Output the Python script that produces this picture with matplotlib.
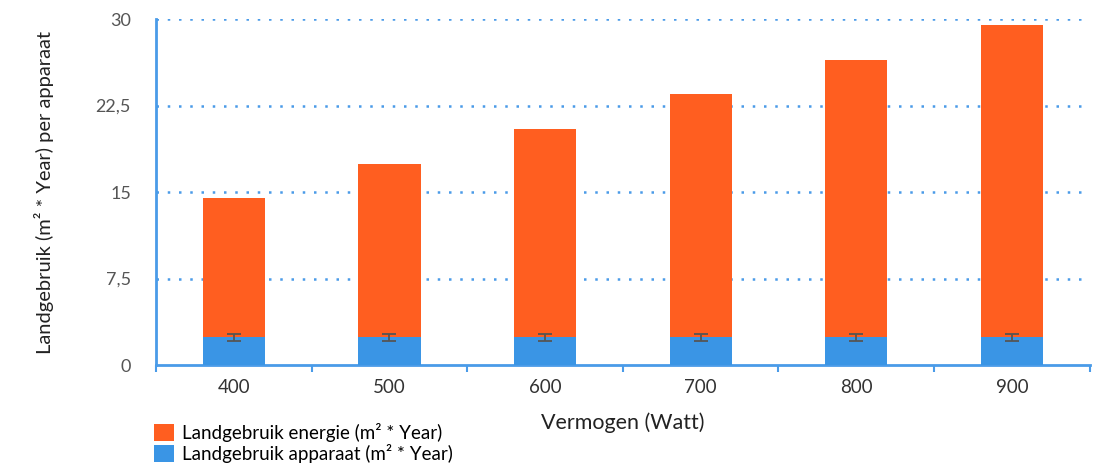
import matplotlib.pyplot as plt
import numpy as np

plt.rcParams['font.family'] = ['Lato', 'DejaVu Sans']

vermogen = ['400', '500', '600', '700', '800', '900']
apparaat = [2.4, 2.4, 2.4, 2.4, 2.4, 2.4]
apparaat_err = [0.3, 0.3, 0.3, 0.3, 0.3, 0.3]
energie = [12.1, 15.0, 18.1, 21.1, 24.05, 27.1]

oranje = '#ff5e20'
blauw = '#3a95e5'
as_kleur = '#4a9be8'

fig = plt.figure(figsize=(10.96, 4.66), dpi=100)
ax = fig.add_axes((0.1423, 0.2167, 0.852, 0.7425))

x = np.arange(len(vermogen))
ax.bar(x, apparaat, width=0.4, color=blauw, label='Landgebruik apparaat (m² * Year)', zorder=3)
ax.bar(x, energie, width=0.4, bottom=apparaat, color=oranje,
       label='Landgebruik energie (m² * Year)', zorder=3)
ax.errorbar(x, apparaat, yerr=apparaat_err, fmt='none', ecolor='#555555',
            elinewidth=1.3, capsize=5, capthick=1.3, zorder=4)

ax.set_xlim(-0.5, 5.5)
ax.set_ylim(0, 30)
ax.set_yticks([0, 7.5, 15, 22.5, 30])
ax.set_yticklabels(['0', '7,5', '15', '22,5', '30'])
ax.set_xticks(x)
ax.set_xticklabels(vermogen)
ax.set_xticks(np.arange(-0.5, 6, 1), minor=True)
ax.tick_params(axis='x', which='major', length=0, pad=10, labelsize=13.5, labelcolor='#333333')
ax.tick_params(axis='x', which='minor', length=5, width=1.5, color=as_kleur, direction='out')
ax.tick_params(axis='y', length=0, pad=18, labelsize=13, labelcolor='#555555')

for v in [7.5, 15, 22.5, 30]:
    ax.axhline(v, color=as_kleur, linestyle=(0, (1, 3.5)), linewidth=1.8, zorder=1)

for kant in ['top', 'right']:
    ax.spines[kant].set_visible(False)
ax.spines['left'].set_color(as_kleur)
ax.spines['left'].set_linewidth(2)
ax.spines['bottom'].set_color(as_kleur)
ax.spines['bottom'].set_linewidth(2)

ax.set_ylabel('Landgebruik (m² * Year) per apparaat', fontsize=14.5, color='#222222', labelpad=30)
ax.set_xlabel('Vermogen (Watt)', fontsize=15.5, color='#222222', labelpad=12)

handles, labels = ax.get_legend_handles_labels()
fig.legend(handles[::-1], labels[::-1], loc='upper left', bbox_to_anchor=(0.1405, 0.092),
           frameon=False, fontsize=13.5, handlelength=1.05, handleheight=1.05,
           handletextpad=0.45, labelspacing=0.1, borderaxespad=0, borderpad=0)

plt.savefig('out.png', dpi=100)
